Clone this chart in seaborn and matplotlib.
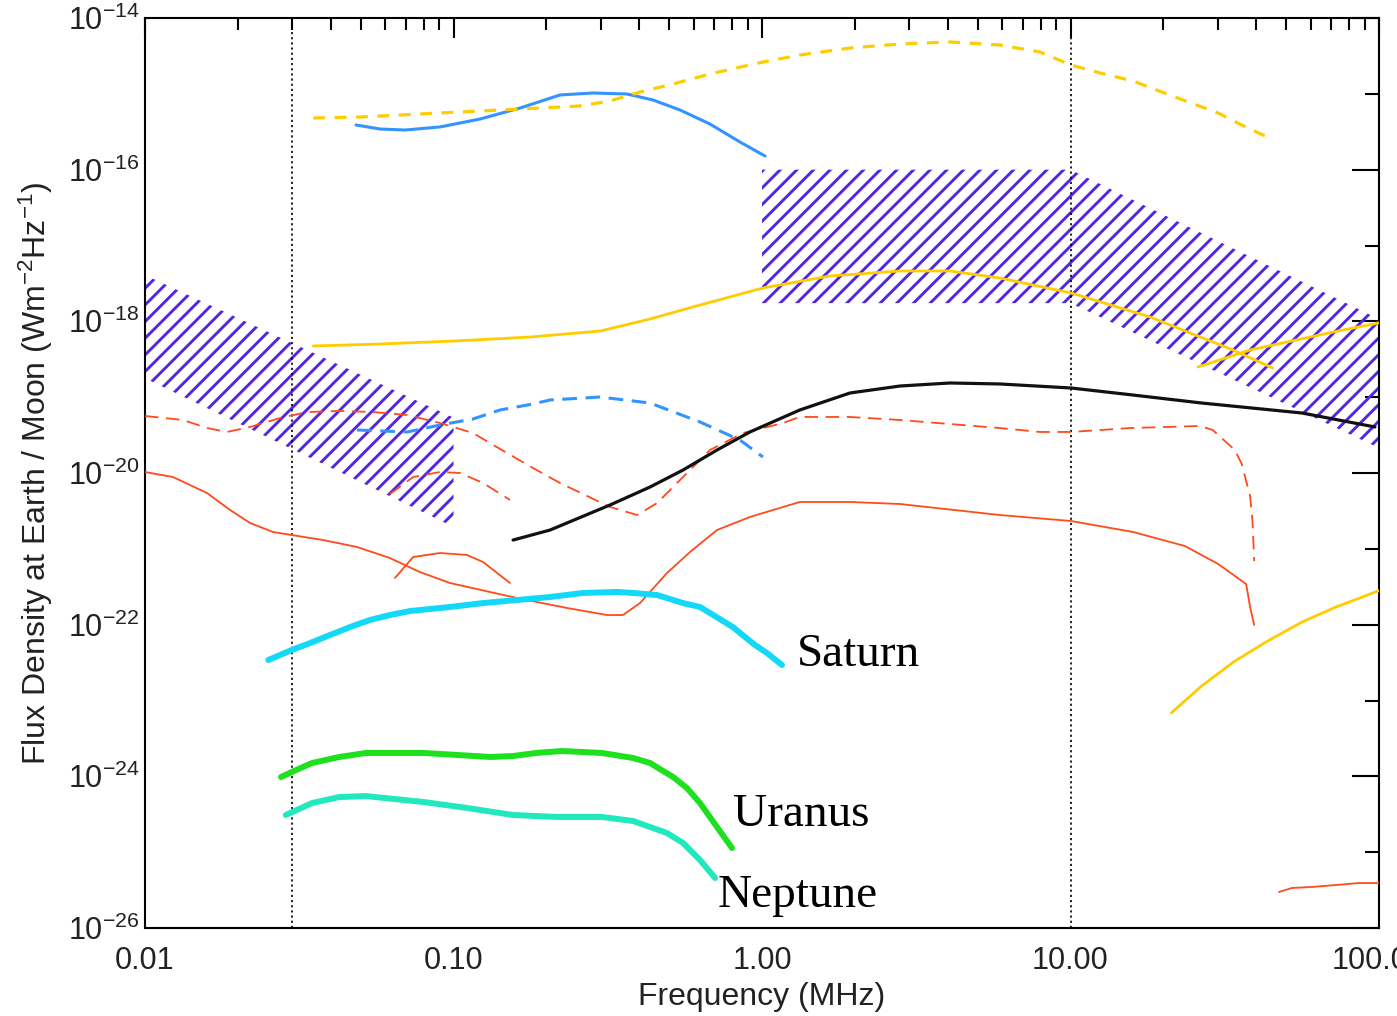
import numpy as np
import matplotlib
matplotlib.use("Agg")
import matplotlib.pyplot as plt
import seaborn as sns
from matplotlib.ticker import FixedLocator, FixedFormatter, LogLocator, NullFormatter

# ---------------------------------------------------------------------------
# Radio spectra: frequency in MHz, flux density as log10(W m^-2 Hz^-1)
# ---------------------------------------------------------------------------
yellow_dash_f = [0.0351, 0.0498, 0.0778, 0.122, 0.1905, 0.257, 0.3216, 0.4024, 0.515, 0.678,
                 1.007, 1.326, 1.928, 2.80, 4.065, 5.903, 7.96, 10.04, 12.47, 15.96,
                 21.8, 30.1, 35.9, 43.4]
yellow_dash_logs = [-15.319, -15.306, -15.266, -15.226, -15.187, -15.160, -15.094, -14.976, -14.870, -14.738,
                    -14.580, -14.488, -14.396, -14.343, -14.316, -14.356, -14.448, -14.620, -14.725, -14.831,
                    -15.042, -15.253, -15.411, -15.569]

blue_f = [0.0483, 0.0578, 0.0697, 0.0904, 0.122, 0.1644, 0.2214, 0.283, 0.365, 0.443,
          0.5423, 0.678, 0.848, 1.023]
blue_logs = [-15.411, -15.464, -15.477, -15.437, -15.332, -15.187, -15.015, -14.989, -15.002, -15.081,
             -15.213, -15.398, -15.635, -15.820]

yellow_f = [0.0351, 0.0578, 0.101, 0.177, 0.2985, 0.4335, 0.6295, 1.007, 1.661, 2.80,
            4.065, 5.903, 10.04, 18.1, 33.6, 45.2]
yellow_logs = [-18.325, -18.299, -18.259, -18.207, -18.128, -17.969, -17.785, -17.560, -17.402, -17.336,
               -17.336, -17.429, -17.626, -17.943, -18.378, -18.615]

yellow_hf_f = [25.9, 38.2, 71.0, 99.5]
yellow_hf_logs = [-18.602, -18.378, -18.141, -18.022]

yellow_low_f = [21.2, 26.6, 34.1, 43.6, 56.3, 72.6, 100.0]
yellow_low_logs = [-23.165, -22.809, -22.480, -22.215, -21.965, -21.767, -21.551]

blue_dash_f = [0.0487, 0.0708, 0.0904, 0.1156, 0.1416, 0.181, 0.2056, 0.2985, 0.4335, 0.6295,
               0.848, 1.007]
blue_dash_logs = [-19.433, -19.459, -19.367, -19.288, -19.169, -19.090, -19.037, -18.998, -19.077, -19.327,
                  -19.565, -19.789]

black_f = [0.156, 0.2056, 0.3216, 0.4335, 0.5546, 0.7146, 0.914, 1.326, 1.928, 2.80,
           4.065, 5.903, 10.04, 15.96, 26.6, 56.3, 97.0]
black_logs = [-20.884, -20.752, -20.422, -20.185, -19.961, -19.697, -19.459, -19.169, -18.945, -18.853,
              -18.813, -18.826, -18.879, -18.972, -19.077, -19.209, -19.393]

red_dash_f = [0.01, 0.01328, 0.01588, 0.01845, 0.0219, 0.0274, 0.0335, 0.0429, 0.0548, 0.0708,
              0.0904, 0.1156, 0.149, 0.181, 0.2214, 0.3216, 0.3937, 0.457, 0.5546, 0.678,
              0.8674, 1.17, 1.326, 1.928, 2.80, 4.065, 5.903, 7.96, 10.04, 15.6,
              26.3, 28.9, 34.1, 35.9, 38.2, 38.9, 39.4]
red_dash_logs = [-19.248, -19.301, -19.407, -19.459, -19.393, -19.275, -19.196, -19.182, -19.196, -19.235,
                 -19.341, -19.473, -19.736, -19.934, -20.132, -20.448, -20.554, -20.396, -20.053, -19.697,
                 -19.473, -19.341, -19.261, -19.261, -19.301, -19.354, -19.407, -19.459, -19.459, -19.407,
                 -19.380, -19.433, -19.697, -19.881, -20.303, -20.633, -21.161]

red_arch_f = [0.0622, 0.0740, 0.0904, 0.105, 0.1247, 0.1525]
red_arch_logs = [-20.277, -20.053, -19.987, -20.000, -20.132, -20.356]

red_f = [0.01, 0.01232, 0.01588, 0.01888, 0.0219, 0.0260, 0.0299, 0.0378, 0.0487, 0.0622,
         0.0778, 0.0975, 0.1607, 0.2334, 0.3147, 0.354, 0.4024, 0.492, 0.5843, 0.7146,
         0.914, 1.17, 1.326, 1.928, 2.80, 5.903, 10.04, 15.96, 23.5, 30.1,
         37.1, 38.2, 39.4]
red_logs = [-19.987, -20.053, -20.264, -20.488, -20.659, -20.778, -20.818, -20.884, -20.976, -21.121,
            -21.306, -21.451, -21.649, -21.780, -21.873, -21.873, -21.715, -21.319, -21.042, -20.752,
            -20.580, -20.448, -20.382, -20.382, -20.409, -20.554, -20.633, -20.778, -20.963, -21.200,
            -21.464, -21.767, -22.004]

red_hump_f = [0.0646, 0.0740, 0.0904, 0.1106, 0.1247, 0.1525]
red_hump_logs = [-21.384, -21.108, -21.055, -21.081, -21.174, -21.451]

red_hf_f = [47.4, 52.2, 60.6, 72.6, 86.1, 100.0]
red_hf_logs = [-25.525, -25.472, -25.459, -25.433, -25.407, -25.407]

saturn_f = [0.0251, 0.0299, 0.0343, 0.0398, 0.0462, 0.0536, 0.0622, 0.0723, 0.0975, 0.1247,
            0.1607, 0.2056, 0.263, 0.339, 0.382, 0.457, 0.5546, 0.6295, 0.678, 0.804,
            0.9485, 1.038, 1.161]
saturn_logs = [-22.466, -22.334, -22.242, -22.136, -22.031, -21.938, -21.873, -21.820, -21.767, -21.715,
               -21.675, -21.635, -21.582, -21.569, -21.582, -21.609, -21.715, -21.767, -21.846, -22.031,
               -22.268, -22.374, -22.532]

uranus_f = [0.0276, 0.0299, 0.0348, 0.0426, 0.0520, 0.0802, 0.132, 0.156, 0.185, 0.2247,
            0.303, 0.382, 0.4335, 0.515, 0.571, 0.6295, 0.7146, 0.7993]
uranus_logs = [-24.009, -23.943, -23.824, -23.745, -23.692, -23.692, -23.745, -23.732, -23.692, -23.666,
               -23.692, -23.758, -23.824, -24.009, -24.154, -24.352, -24.668, -24.945]

neptune_f = [0.0286, 0.0348, 0.0426, 0.0520, 0.0802, 0.111, 0.156, 0.2183, 0.303, 0.382,
             0.4335, 0.492, 0.5546, 0.6295, 0.7046]
neptune_logs = [-24.510, -24.352, -24.273, -24.260, -24.339, -24.418, -24.510, -24.536, -24.536, -24.589,
                -24.668, -24.747, -24.879, -25.103, -25.341]

# Hatched sensitivity bands (log10 flux of the upper and lower edges)
band_low_f = [0.01, 0.1]
band_low_top = [-17.39, -19.27]
band_low_bot = [-18.75, -20.71]
band_high_f = [1.0, 10.0, 100.0]
band_high_top = [-16.00, -16.00, -17.97]
band_high_bot = [-17.76, -17.76, -19.67]

# Reference frequencies marked with dotted lines
marker_freqs = [0.03, 10.0]

# Planet labels: (text, frequency, log10 flux of baseline)
planet_labels = [("Saturn", 1.30, -22.545), ("Uranus", 0.806, -24.655), ("Neptune", 0.719, -25.723)]

x_ticks = [0.01, 0.1, 1.0, 10.0, 100.0]
x_ticklabels = ["0.01", "0.10", "1.00", "10.00", "100.00"]
y_exponents = [-14, -16, -18, -20, -22, -24, -26]

# ---------------------------------------------------------------------------
sns.set_theme(style="white")
plt.rcParams["font.family"] = ["Liberation Sans", "DejaVu Sans"]
plt.rcParams["hatch.linewidth"] = 2.1
plt.rcParams["axes.unicode_minus"] = False

fig = plt.figure(figsize=(13.97, 10.16), dpi=100)
ax = fig.add_axes([145 / 1397, 1 - 928 / 1016, (1379 - 145) / 1397, (928 - 18) / 1016])
ax.set_xscale("log")
ax.set_yscale("log")
ax.set_xlim(0.01, 100)
ax.set_ylim(1e-26, 1e-14)

HATCH = "#5326e4"
YELLOW = "#ffcc00"
BLUE = "#3393ff"
RED = "#ff4a1c"


def exp10(v):
    return np.power(10.0, np.asarray(v, dtype=float))


# hatched bands
for bf, top, bot in [(band_low_f, band_low_top, band_low_bot),
                     (band_high_f, band_high_top, band_high_bot)]:
    ax.fill_between(bf, exp10(bot), exp10(top), facecolor="none", edgecolor=HATCH,
                    linewidth=0, hatch="//", zorder=1)

# dotted reference frequencies
for xf in marker_freqs:
    ax.axvline(xf, color="black", linewidth=1.2, linestyle=(0, (1.3, 1.8)), zorder=2)


def curve(f, logs, color, lw, ls="-", z=3):
    sns.lineplot(x=f, y=exp10(logs), ax=ax, color=color, linewidth=lw, linestyle=ls,
                 sort=False, estimator=None, errorbar=None, zorder=z)


red_dash = (0, (7.5, 4.2))
curve(red_dash_f, red_dash_logs, RED, 1.3, red_dash)
curve(red_arch_f, red_arch_logs, RED, 1.3, red_dash)
curve(red_f, red_logs, RED, 1.3)
curve(red_hump_f, red_hump_logs, RED, 1.3)
curve(red_hf_f, red_hf_logs, RED, 1.3)

curve(blue_dash_f, blue_dash_logs, BLUE, 2.2, (0, (4.8, 2.8)))
curve(blue_f, blue_logs, BLUE, 2.2)
curve(yellow_dash_f, yellow_dash_logs, YELLOW, 2.3, (0, (3.7, 3.0)))
curve(yellow_f, yellow_logs, YELLOW, 2.0)
curve(yellow_hf_f, yellow_hf_logs, YELLOW, 2.0)
curve(yellow_low_f, yellow_low_logs, YELLOW, 2.0)
curve(black_f, black_logs, "#111111", 2.3, z=4)

curve(saturn_f, saturn_logs, "#14d8f8", 4.3, z=5)
curve(uranus_f, uranus_logs, "#1ee01e", 4.3, z=5)
curve(neptune_f, neptune_logs, "#22e8bf", 4.3, z=5)

for name, fx, ly in planet_labels:
    ax.text(fx, 10.0 ** ly, name, family=["Liberation Serif", "DejaVu Serif"], fontsize=34,
            color="black", ha="left", va="baseline", zorder=6)

# axes, ticks and labels
ax.xaxis.set_major_locator(FixedLocator(x_ticks))
ax.xaxis.set_major_formatter(FixedFormatter(x_ticklabels))
ax.xaxis.set_minor_locator(LogLocator(base=10, subs=np.arange(2, 10)))
ax.xaxis.set_minor_formatter(NullFormatter())

y_major = [10.0 ** e for e in y_exponents]
y_minor = [10.0 ** e for e in range(-25, -14, 2)]
ax.yaxis.set_major_locator(FixedLocator(y_major))
ax.yaxis.set_major_formatter(FixedFormatter([r"$\mathregular{10^{%d}}$" % e for e in y_exponents]))
ax.yaxis.set_minor_locator(FixedLocator(y_minor))
ax.yaxis.set_minor_formatter(NullFormatter())

ax.tick_params(which="both", direction="in", top=True, right=True, width=1.5, color="black",
               labelcolor="#222222")
ax.tick_params(axis="y", which="major", length=19.5, labelsize=22, pad=4)
ax.tick_params(axis="y", which="minor", length=10)
ax.tick_params(axis="x", which="major", length=14.5, labelsize=22, pad=13)
ax.tick_params(axis="x", which="minor", length=8.5)

for sp in ax.spines.values():
    sp.set_color("black")
    sp.set_linewidth(1.5)

ax.set_xlabel("Frequency (MHz)", fontsize=23, color="#222222", labelpad=4)
ax.set_ylabel(r"Flux Density at Earth / Moon (Wm$\mathregular{^{-2}}$Hz$\mathregular{^{-1}}$)",
              fontsize=23, color="#222222", labelpad=9)
ax.set_facecolor("white")
fig.patch.set_facecolor("white")

fig.savefig("out.png", dpi=100)
